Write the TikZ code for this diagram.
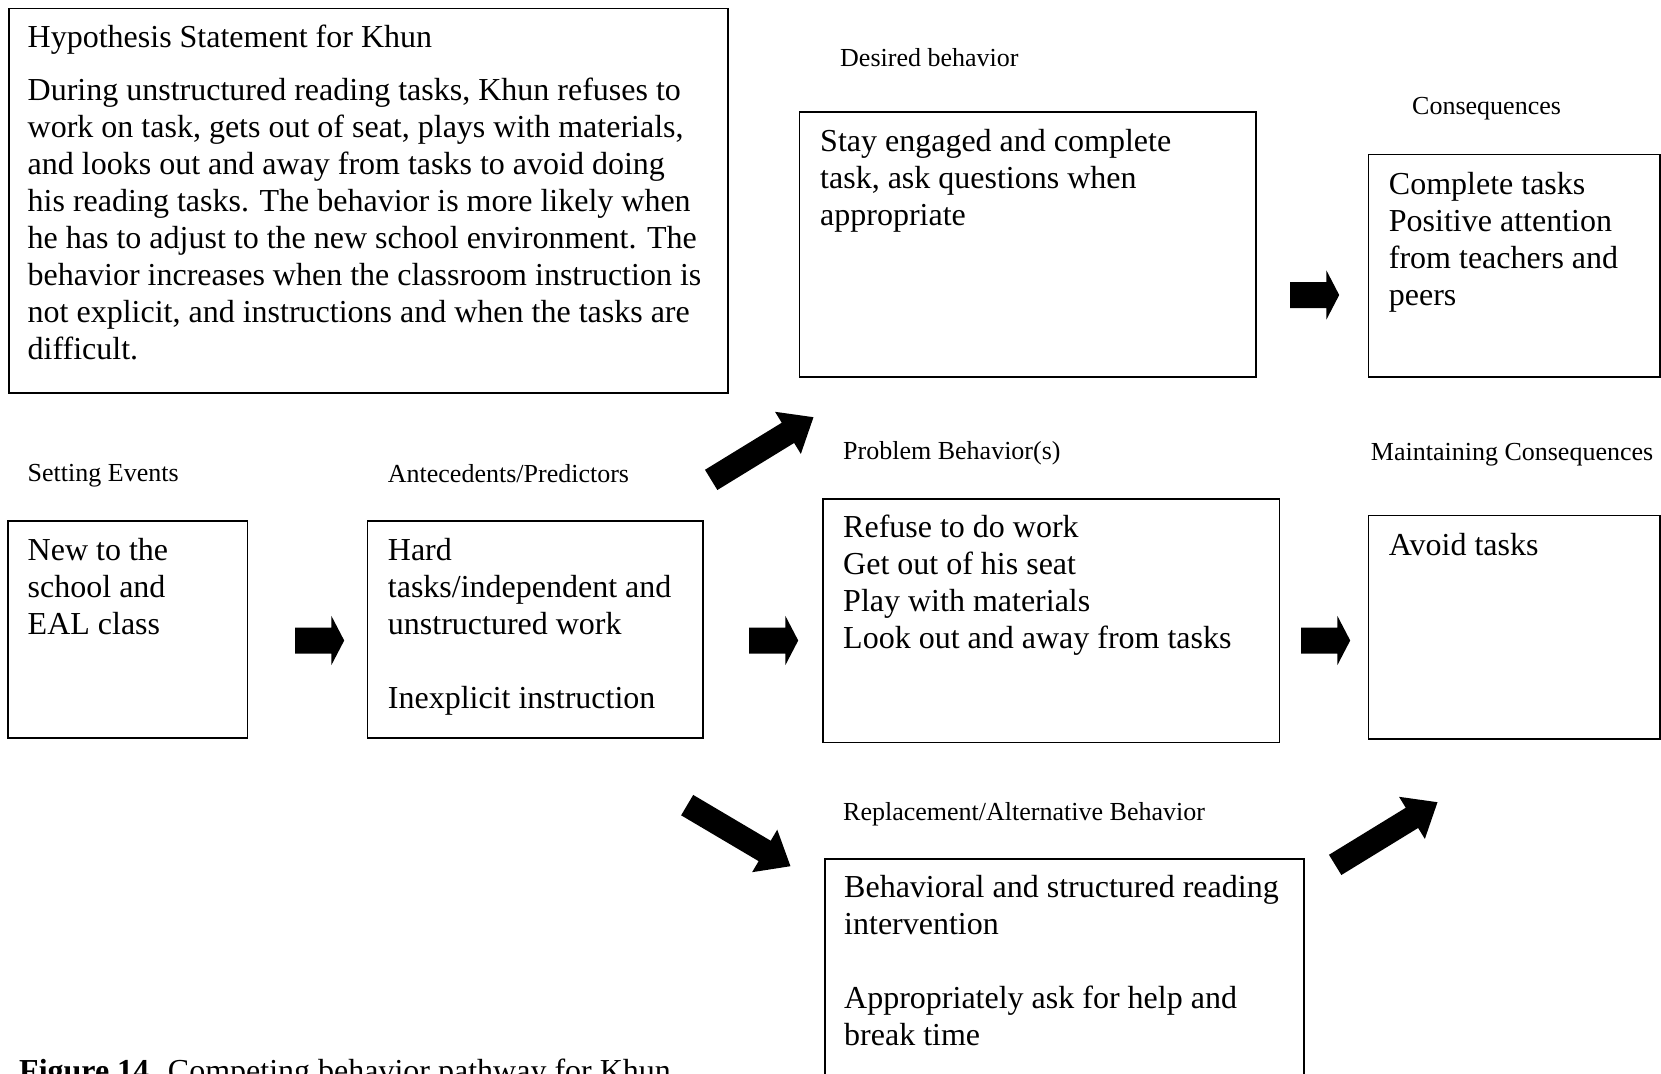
\documentclass[tikz,border=0pt]{standalone}
\usepackage{fontspec}
\setmainfont{Liberation Serif}
\usetikzlibrary{shapes.arrows}
\tikzset{
  cbp_box/.style = {rectangle, draw=black, line width=1.5pt,
    anchor=north west, inner sep=0pt},% cadre vide
  cbp_txt/.style = {anchor=north west, inner sep=0pt, align=left,
    font=\fontsize{32}{37}\selectfont},% texte dans un cadre
  cbp_lbl/.style = {anchor=north west, inner sep=0pt,
    font=\fontsize{26}{31}\selectfont},% titre au-dessus d'un cadre
  cbp_arr/.style = {single arrow, fill=black, draw=none, inner xsep=0pt,
    anchor=tail},% grosse fleche
  cbp_arr_h/.style = {cbp_arr, inner ysep=12.8pt, minimum height=49pt,
    minimum width=49pt, single arrow head extend=11.7pt,
    single arrow tip angle=125},% fleche courte
  cbp_arr_d/.style = {cbp_arr, inner ysep=11.65pt, minimum height=120pt,
    minimum width=49pt, single arrow head extend=12.85pt,
    single arrow tip angle=79}% fleche oblique
}

\begin{document}
\begin{tikzpicture}[x=1pt,y=-1pt]
\useasboundingbox (0,0) rectangle (1661,1073);
\clip (0,0) rectangle (1661,1073);
% cadres
\node [cbp_box, minimum width=719pt, minimum height=384pt] (hyp) at (8,8) {};
\node [cbp_box, minimum width=239.4pt, minimum height=217pt] (setev) at (7.4,520) {};
\node [cbp_box, minimum width=335.8pt, minimum height=217pt] (antec) at (366.5,520) {};
\node [cbp_box, minimum width=456.6pt, minimum height=264.8pt] (desir) at (798.7,111.2) {};
\node [cbp_box, minimum width=456.6pt, minimum height=243.5pt] (probl) at (822,498) {};
\node [cbp_box, minimum width=479pt, minimum height=262pt] (repla) at (824,858) {};
\node [cbp_box, minimum width=291.5pt, minimum height=222.4pt] (conse) at (1367.5,153.6) {};
\node [cbp_box, minimum width=291.5pt, minimum height=223.5pt] (maint) at (1367.5,514.8) {};
% textes
\node [cbp_txt] (hyp_t) at (27.5,24.5) {Hypothesis Statement for Khun};
\node [cbp_txt] (hyp_b) at (27.5,77.5) {During unstructured reading tasks, Khun refuses to\\
  work on task, gets out of seat, plays with materials,\\
  and looks out and away from tasks to avoid doing\\
  his reading tasks. The behavior is more likely when\\
  he has to adjust to the new school environment. The\\
  behavior increases when the classroom instruction is\\
  not explicit, and instructions and when the tasks are\\
  difficult.};
\node [cbp_txt] (setev_t) at (27.5,538.3) {New to the\\school and\\EAL class};
\node [cbp_txt] (antec_t) at (387.7,538.3) {Hard\\tasks/independent and\\unstructured work\\[37pt]
  Inexplicit instruction};
\node [cbp_txt] (desir_t) at (820,129.4) {Stay engaged and complete\\task, ask questions when\\appropriate};
\node [cbp_txt] (probl_t) at (843,515) {Refuse to do work\\Get out of his seat\\Play with materials\\
  Look out and away from tasks};
\node [cbp_txt] (repla_t) at (844,875) {Behavioral and structured reading\\intervention\\[37pt]
  Appropriately ask for help and\\break time};
\node [cbp_txt] (conse_t) at (1388.7,171.8) {Complete tasks\\Positive attention\\from teachers and\\peers};
\node [cbp_txt] (maint_t) at (1388.7,533) {Avoid tasks};
% titres
\node [cbp_lbl] (setev_l) at (27.5,464.3) {Setting Events};
\node [cbp_lbl] (antec_l) at (387.7,464.3) {Antecedents/Predictors};
\node [cbp_lbl] (desir_l) at (840,48) {Desired behavior};
\node [cbp_lbl] (conse_l) at (1412,96.8) {Consequences};
\node [cbp_lbl] (probl_l) at (843,440.8) {Problem Behavior(s)};
\node [cbp_lbl] (maint_l) at (1370.7,443.1) {Maintaining Consequences};
\node [cbp_lbl] (repla_l) at (843,802.2) {Replacement/Alternative Behavior};
% fleches
\node [cbp_arr_h] (a1) at (295,640.5) {};
\node [cbp_arr_h] (a2) at (749,640.5) {};
\node [cbp_arr_h] (a3) at (1301,640.5) {};
\node [cbp_arr_h] (a4) at (1290,295) {};
\node [cbp_arr_d, rotate=31.5] (a5) at (711,480) {};
\node [cbp_arr_d, rotate=-30.6] (a6) at (687,805) {};
\node [cbp_arr_d, rotate=31.5] (a7) at (1335,865) {};
% legende
\node [anchor=base west, inner sep=0pt, font=\fontsize{32}{37}\selectfont] (capt)
  at (19,1081) {\textbf{Figure 14.} Competing behavior pathway for Khun};
\end{tikzpicture}
\end{document}
